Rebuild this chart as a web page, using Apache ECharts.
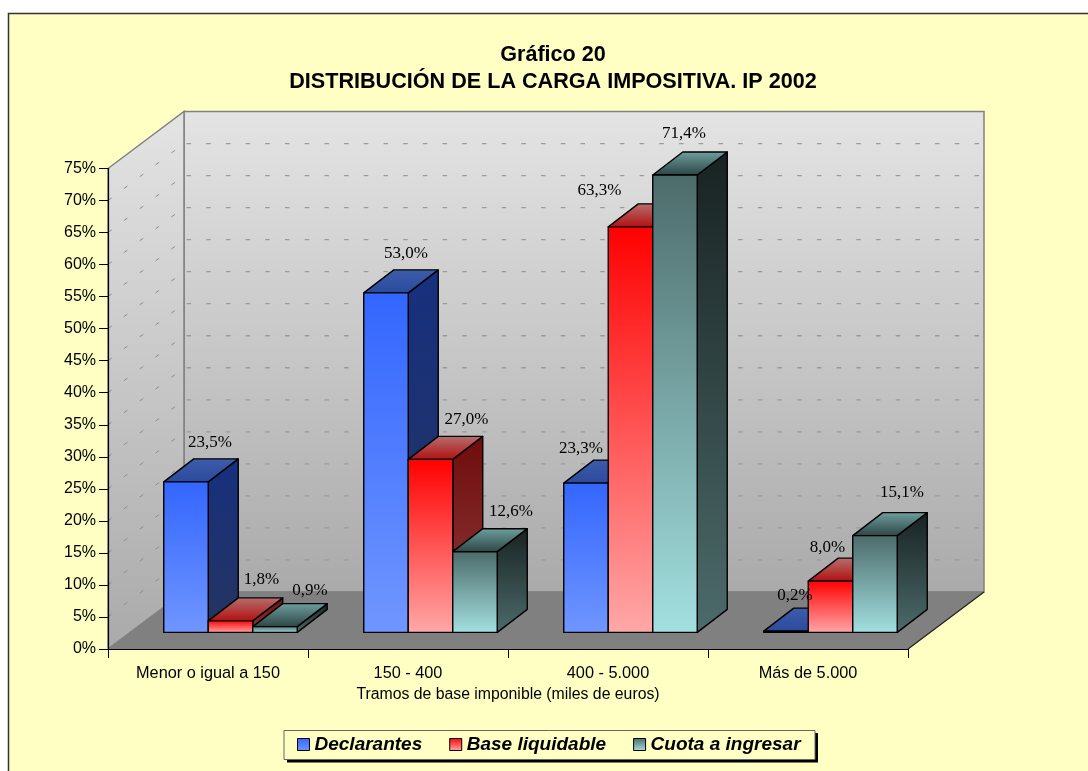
<!DOCTYPE html>
<html>
<head>
<meta charset="utf-8">
<style>html,body{margin:0;padding:0;background:#fff}#chart{width:1088px;height:771px}</style>
<script src="https://cdn.jsdelivr.net/npm/echarts@6/dist/echarts.min.js"></script>
</head>
<body>
<div id="chart"></div>
<script>
const categories = ['Menor o igual a 150', '150 - 400', '400 - 5.000', 'Más de 5.000'];
const declarantes = [23.5, 53.0, 23.3, 0.2];
const baseLiquidable = [1.8, 27.0, 63.3, 8.0];
const cuotaIngresar = [0.9, 12.6, 71.4, 15.1];
const wallTicks = [5, 10, 15, 20, 25, 30, 35, 40, 45, 50, 55, 60, 65, 70];

// hand placed labels in the original, offset from the middle of the bar's top front edge
const nudgeDeclarantes = [[24, -39.5], [20, -39.5], [-5, -34.5], [9, -35.5]];
const nudgeBase = [[31, -41.5], [36, -39.5], [-31, -36.5], [-3, -33.5]];
const nudgeCuota = [[35, -36.5], [36, -40.5], [9, -41.5], [27, -43.5]];

// 3d look: depth of whole floor, and where bars sit on it
const depthX = 76, depthY = 57;
const barShiftX = 22.5, barShiftY = -16.6;
const barDepthX = 30, barDepthY = -23;
const barRatio = 0.2225;

const grad = (a, b) => new echarts.graphic.LinearGradient(0, 0, 0, 1, [
    { offset: 0, color: a }, { offset: 1, color: b }
]);

function wallsItem(params, api) {
    const c = params.coordSys;
    const l = c.x, r = c.x + c.width, t = c.y, b = c.y + c.height;
    const wallFill = grad('#e4e4e4', '#aaaaaa');
    const edge = { stroke: '#808080', lineWidth: 1.5 };
    const children = [
        { type: 'polygon', shape: { points: [[l + depthX, t - depthY], [r + depthX, t - depthY], [r + depthX, b - depthY], [l + depthX, b - depthY]] },
          style: { fill: wallFill, ...edge } },
        { type: 'polygon', shape: { points: [[l, t], [l + depthX, t - depthY], [l + depthX, b - depthY], [l, b]] },
          style: { fill: wallFill, ...edge } },
        { type: 'polygon', shape: { points: [[l, b], [l + depthX, b - depthY], [r + depthX, b - depthY], [r, b]] },
          style: { fill: '#808080', stroke: '#808080', lineWidth: 1 } },
        { type: 'line', shape: { x1: r, y1: b, x2: r + depthX, y2: b - depthY },
          style: { stroke: '#222', lineWidth: 1.2 } }
    ];
    wallTicks.forEach(v => {
        const y = api.coord([0, v])[1];
        children.push({ type: 'line', shape: { x1: l + depthX + 2.5, y1: y - depthY, x2: r + depthX - 2, y2: y - depthY },
            style: { stroke: '#9a9a9a', lineWidth: 1.3, lineDash: [4.5, 15.2] } });
        children.push({ type: 'line', shape: { x1: l, y1: y, x2: l + depthX, y2: y - depthY },
            style: { stroke: '#8c8c8c', lineWidth: 1, lineDash: [4.5, 15.3] } });
    });
    return { type: 'group', children };
}

function barRenderer(slot, front, top, side, nudge) {
    return function (params, api) {
        const i = api.value(0), v = api.value(1);
        const base = api.coord([i, 0]), head = api.coord([i, v]);
        const w = api.size([1, 0])[0] * barRatio;
        const x0 = base[0] + barShiftX + (slot - 1.5) * w, x1 = x0 + w;
        const y0 = base[1] + barShiftY, y1 = head[1] + barShiftY;
        const stroke = { stroke: '#000', lineWidth: 1.4, lineJoin: 'round' };
        const dx = barDepthX, dy = barDepthY;
        return {
            type: 'group',
            children: [
                { type: 'polygon', shape: { points: [[x1, y0], [x1 + dx, y0 + dy], [x1 + dx, y1 + dy], [x1, y1]] },
                  style: { fill: grad(side[0], side[1]), ...stroke } },
                { type: 'polygon', shape: { points: [[x0, y1], [x1, y1], [x1 + dx, y1 + dy], [x0 + dx, y1 + dy]] },
                  style: { fill: grad(top[1], top[0]), ...stroke } },
                { type: 'rect', shape: { x: x0, y: y1, width: w, height: y0 - y1 },
                  style: { fill: grad(front[0], front[1]), ...stroke } },
                { type: 'text', z2: 100,
                  style: { x: x0 + w / 2 + nudge[i][0], y: y1 + nudge[i][1], text: v.toFixed(1).replace('.', ',') + '%',
                    fill: '#000', font: '17px "Liberation Serif"', align: 'center', verticalAlign: 'middle' } }
            ]
        };
    };
}

function barSeries(name, values, slot, front, top, side, nudge) {
    return {
        name,
        type: 'custom',
        z: 3,
        itemStyle: { color: grad(front[0], front[1]) },
        renderItem: barRenderer(slot, front, top, side, nudge),
        data: values.map((v, i) => [i, v]),
        animation: false
    };
}

const chart = echarts.init(document.getElementById('chart'), null, { renderer: 'canvas' });
chart.setOption({
    animation: false,
    backgroundColor: '#ffffff',
    textStyle: { fontFamily: '"Liberation Sans"' },
    graphic: [{
        type: 'rect', z: -10,
        shape: { x: 8.5, y: 13.5, width: 1200, height: 900 },
        style: { fill: '#ffffc4', stroke: '#333', lineWidth: 1.5 }
    }, {
        // legend box and its hard shadow
        type: 'rect', z: -9,
        shape: { x: 287, y: 733, width: 531, height: 29.5 },
        style: { fill: '#000' }
    }, {
        type: 'rect', z: -8,
        shape: { x: 284, y: 730.5, width: 531, height: 29 },
        style: { fill: '#ffffc4', stroke: '#666', lineWidth: 1 }
    }],
    title: {
        text: 'Gráfico 20\nDISTRIBUCIÓN DE LA CARGA IMPOSITIVA. IP 2002',
        left: 548, top: 37, textAlign: 'center',
        textStyle: { fontFamily: '"Liberation Sans"', fontSize: 21.6, fontWeight: 'bold', color: '#000', lineHeight: 27 }
    },
    legend: {
        left: 284, top: 731,
        data: ['Declarantes', 'Base liquidable', 'Cuota a ingresar'],
        padding: [4, 13, 4, 13],
        itemGap: 27, itemWidth: 12, itemHeight: 12,
        icon: 'rect',
        selectedMode: false,
        itemStyle: { borderColor: '#000', borderWidth: 1 },
        textStyle: { fontFamily: '"Liberation Sans"', fontSize: 19, fontWeight: 'bold', fontStyle: 'italic', color: '#000' }
    },
    grid: { left: 108, top: 168.5, width: 800, height: 480.5, containLabel: false },
    xAxis: {
        type: 'category',
        data: categories,
        z: 5,
        boundaryGap: true,
        name: 'Tramos de base imponible (miles de euros)',
        nameLocation: 'middle',
        nameGap: 37,
        nameTextStyle: { fontSize: 15.8, color: '#000' },
        axisLine: { lineStyle: { color: '#000', width: 1.2 } },
        axisTick: { show: true, alignWithLabel: false, length: 9, lineStyle: { color: '#000', width: 1 } },
        axisLabel: { show: true, interval: 0, fontSize: 16.3, color: '#000', margin: 17 },
        splitLine: { show: false }
    },
    yAxis: {
        type: 'value',
        min: 0, max: 75, interval: 5,
        z: 5,
        axisLine: { show: true, lineStyle: { color: '#000', width: 1.2 } },
        axisTick: { show: true, length: 9, lineStyle: { color: '#000', width: 1 } },
        axisLabel: { fontSize: 16, color: '#000', margin: 12, formatter: '{value}%' },
        splitLine: { show: false }
    },
    series: [
        { name: 'paredes', type: 'custom', z: 1, renderItem: wallsItem, data: [[0, 0]], silent: true },
        barSeries('Declarantes', declarantes, 0, ['#3366ff', '#7096ff'], ['#2b4a9c', '#3d5cab'], ['#17307f', '#25345f'], nudgeDeclarantes),
        barSeries('Base liquidable', baseLiquidable, 1, ['#ff0000', '#ffa8a8'], ['#b30f0f', '#b57070'], ['#700c0c', '#8f3d3d'], nudgeBase),
        barSeries('Cuota a ingresar', cuotaIngresar, 2, ['#4d6b6b', '#a3e0e0'], ['#2c4444', '#70a0a0'], ['#182222', '#4d6b6b'], nudgeCuota)
    ]
});
</script>
</body>
</html>
